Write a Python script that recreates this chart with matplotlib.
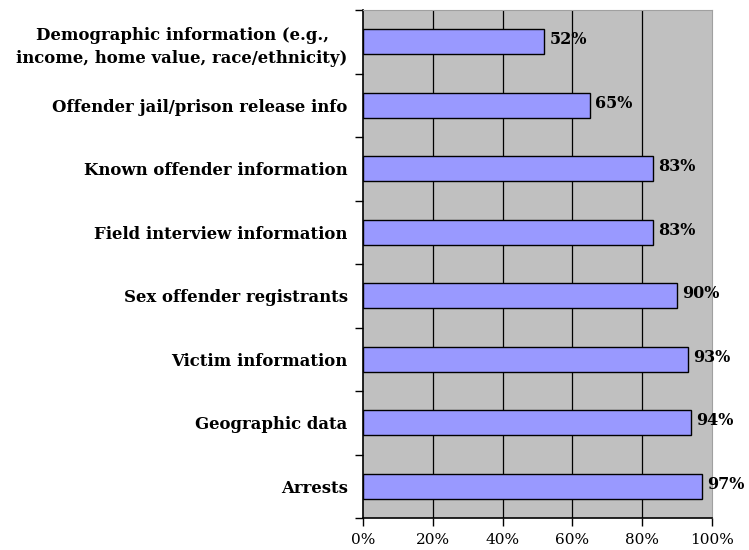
import matplotlib
matplotlib.use("Agg")
import matplotlib.pyplot as plt
from matplotlib.ticker import FuncFormatter

categories = [
    "Demographic information (e.g.,\nincome, home value, race/ethnicity)",
    "Offender jail/prison release info",
    "Known offender information",
    "Field interview information",
    "Sex offender registrants",
    "Victim information",
    "Geographic data",
    "Arrests",
]
values = [52, 65, 83, 83, 90, 93, 94, 97]
x_ticks = [0, 20, 40, 60, 80, 100]

plt.rcParams['font.family'] = ['DejaVu Serif']

fig = plt.figure(figsize=(7.49, 5.5), dpi=100)
ax = fig.add_axes([363/749, 1-518/550, (712-363)/749, (518-10)/550])
ax.set_facecolor('#C0C0C0')

n = len(categories)
ypos = list(range(n))
ax.barh(ypos, values, height=0.4, color='#9999FF', edgecolor='black', linewidth=1.0, zorder=3)
for y, v in zip(ypos, values):
    ax.text(v + 1.5, y - 0.03, f"{v}%", va='center', ha='left', fontsize=11.5, fontweight='bold', zorder=4)

ax.set_xlim(0, 100)
ax.set_ylim(n - 0.5, -0.5)
ax.set_xticks(x_ticks)
ax.xaxis.set_major_formatter(FuncFormatter(lambda v, p: f"{int(v)}%"))
ax.tick_params(axis='x', direction='out', length=6, width=1, labelsize=11, pad=5)
for v in x_ticks[1:-1]:
    ax.axvline(v, color='black', linewidth=0.9, zorder=1)

ax.set_yticks(ypos)
ax.set_yticklabels(categories, fontsize=11.9, fontweight='bold', ha='right', multialignment='center', linespacing=1.45)
ax.tick_params(axis='y', length=0, pad=11)
ax.set_yticks([i - 0.5 for i in range(n + 1)], minor=True)
ax.tick_params(axis='y', which='minor', direction='out', length=6, width=1)

for s in ['top', 'right']:
    ax.spines[s].set_color('#A0A0A0')
    ax.spines[s].set_linewidth(0.8)
ax.spines['left'].set_linewidth(1.2)
ax.spines['bottom'].set_linewidth(1.2)

fig.savefig("out.png", dpi=100)
